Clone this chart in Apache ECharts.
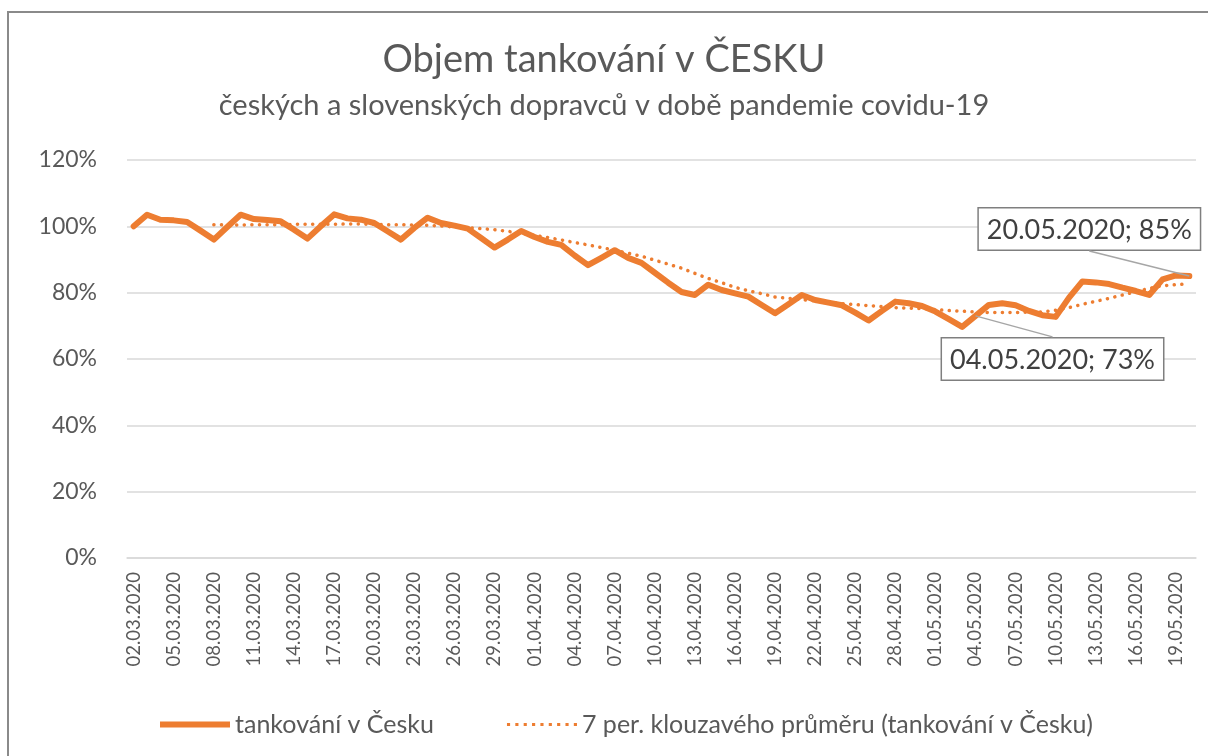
<!DOCTYPE html>
<html>
<head>
<meta charset="utf-8">
<title>Objem tankování v ČESKU</title>
<script src="https://cdn.jsdelivr.net/npm/echarts@6/dist/echarts.min.js"></script>
<style>
  html, body { margin: 0; padding: 0; background: #fff; }
  #chart { width: 1208px; height: 756px; }
</style>
</head>
<body>
<div id="chart"></div>
<script>
// dny 02.03.2020 - 20.05.2020
var dates = [
  '02.03.2020', '03.03.2020', '04.03.2020', '05.03.2020', '06.03.2020', '07.03.2020', '08.03.2020',
  '09.03.2020', '10.03.2020', '11.03.2020', '12.03.2020', '13.03.2020', '14.03.2020', '15.03.2020',
  '16.03.2020', '17.03.2020', '18.03.2020', '19.03.2020', '20.03.2020', '21.03.2020', '22.03.2020',
  '23.03.2020', '24.03.2020', '25.03.2020', '26.03.2020', '27.03.2020', '28.03.2020', '29.03.2020',
  '30.03.2020', '31.03.2020', '01.04.2020', '02.04.2020', '03.04.2020', '04.04.2020', '05.04.2020',
  '06.04.2020', '07.04.2020', '08.04.2020', '09.04.2020', '10.04.2020', '11.04.2020', '12.04.2020',
  '13.04.2020', '14.04.2020', '15.04.2020', '16.04.2020', '17.04.2020', '18.04.2020', '19.04.2020',
  '20.04.2020', '21.04.2020', '22.04.2020', '23.04.2020', '24.04.2020', '25.04.2020', '26.04.2020',
  '27.04.2020', '28.04.2020', '29.04.2020', '30.04.2020', '01.05.2020', '02.05.2020', '03.05.2020',
  '04.05.2020', '05.05.2020', '06.05.2020', '07.05.2020', '08.05.2020', '09.05.2020', '10.05.2020',
  '11.05.2020', '12.05.2020', '13.05.2020', '14.05.2020', '15.05.2020', '16.05.2020', '17.05.2020',
  '18.05.2020', '19.05.2020', '20.05.2020'
]

// tankování v Česku (%)
var tankovani = [
  100, 103.5, 102, 101.8, 101.3, 98.7, 96,
  99.8, 103.5, 102.2, 101.9, 101.5, 99, 96.3,
  100, 103.6, 102.4, 102, 101, 98.5, 96,
  99.5, 102.6, 101, 100.2, 99.3, 96.5, 93.6,
  96, 98.6, 96.8, 95.3, 94.4, 91.2, 88.3,
  90.5, 92.8, 90.5, 89, 86, 83, 80.2,
  79.3, 82.4, 80.8, 79.8, 78.8, 76.3, 73.8,
  76.5, 79.3, 77.8, 77, 76.2, 74, 71.6,
  74.5, 77.3, 76.8, 76, 74.3, 72, 69.7,
  73, 76.3, 76.8, 76.2, 74.5, 73.2, 72.7,
  78.5, 83.4, 83.1, 82.6, 81.5, 80.5, 79.3,
  84, 85.2, 85
]

// 7 per. klouzavý průměr (%)
var klouzavy = [
  '-', '-', '-', '-', '-', '-', 100.5,
  100.4, 100.4, 100.5, 100.5, 100.5, 100.6, 100.6,
  100.6, 100.6, 100.7, 100.7, 100.6, 100.5, 100.5,
  100.4, 100.3, 100.1, 99.8, 99.6, 99.3, 99,
  98.5, 97.9, 97.3, 96.6, 95.9, 95.1, 94.4,
  93.6, 92.8, 91.9, 91, 89.8, 88.6, 87.4,
  85.8, 84.3, 83, 81.6, 80.6, 79.7, 78.7,
  78.3, 77.9, 77.5, 77.1, 76.7, 76.4, 76.1,
  75.8, 75.5, 75.3, 75.2, 74.9, 74.6, 74.4,
  74.2, 74, 74, 74, 74.1, 74.2, 74.7,
  75.5, 76.5, 77.4, 78.3, 79.3, 80.3, 81.3,
  82.1, 82.4, 82.7
]

var yTicks = [0, 20, 40, 60, 80, 100, 120]

// body s popiskem
var popisky = ['04.05.2020', '20.05.2020']

var FONT = 'Lato, "Noto Sans", sans-serif'
var ORANGE = '#ED7D31'
var TEXT = '#595959'

var lineData = tankovani.map(function (v, i) {
  if (popisky.indexOf(dates[i]) >= 0) {
    return { value: v, symbol: 'circle', symbolSize: 1, label: { show: true } }
  }
  return v
})

// vodici cary - spocitaji se pri rozlozeni popisku
var vodici = {}

function posunPopisku(p, dx, dy, odSpodu) {
  var ax = p.rect.x + p.rect.width / 2
  var ay = p.rect.y + p.rect.height / 2
  var r = p.labelRect
  vodici[p.dataIndex] = {
    x1: r.x + r.width / 2 + dx,
    y1: odSpodu ? r.y + r.height + dy : r.y + dy,
    x2: ax,
    y2: ay
  }
  return { dx: dx, dy: dy }
}

var ramecek = {
  id: 'ramecek',
  type: 'rect',
  shape: { x: 8, y: 12, width: 1210, height: 770 },
  style: { fill: 'none', stroke: '#8a8a8a', lineWidth: 2 },
  silent: true
}

var option = {
  animation: false,
  graphic: [ramecek],
  title: [
    {
      text: 'Objem tankování v ČESKU',
      left: 'center',
      top: 36,
      textStyle: { fontFamily: FONT, fontSize: 38, fontWeight: 'normal', color: TEXT }
    },
    {
      text: 'českých a slovenských dopravců v době pandemie covidu-19',
      left: 'center',
      top: 86,
      textStyle: { fontFamily: FONT, fontSize: 29, fontWeight: 'normal', color: TEXT }
    }
  ],
  legend: {
    bottom: 14,
    left: 155,
    itemWidth: 70,
    itemHeight: 12,
    itemGap: 73,
    textStyle: { fontFamily: FONT, fontSize: 25, color: TEXT },
    data: [
      { name: 'tankování v Česku', icon: 'path://M0,0H70V6H0Z' },
      {
        name: '7 per. klouzavého průměru (tankování v Česku)',
        icon: 'path://M0,0h3v3h-3z M8,0h3v3h-3z M16,0h3v3h-3z M24,0h3v3h-3z M32,0h3v3h-3z M40,0h3v3h-3z M48,0h3v3h-3z M56,0h3v3h-3z M64,0h3v3h-3z'
      }
    ]
  },
  grid: {
    left: 127,
    top: 160,
    width: 1069,
    height: 398
  },
  xAxis: {
    type: 'category',
    data: dates,
    boundaryGap: true,
    axisLine: { lineStyle: { color: '#d9d9d9', width: 1.5 } },
    axisTick: { show: false },
    axisLabel: {
      interval: 2,
      rotate: 90,
      margin: 14,
      fontFamily: FONT,
      fontSize: 18.5,
      color: TEXT
    }
  },
  yAxis: {
    type: 'value',
    min: yTicks[0],
    max: yTicks[yTicks.length - 1],
    interval: yTicks[1] - yTicks[0],
    axisLine: { show: false },
    axisTick: { show: false },
    splitLine: { lineStyle: { color: '#d9d9d9', width: 1.5 } },
    axisLabel: {
      formatter: '{value}%',
      margin: 30,
      fontFamily: FONT,
      fontSize: 23,
      color: TEXT
    }
  },
  series: [
    {
      name: 'tankování v Česku',
      type: 'line',
      data: lineData,
      symbol: 'none',
      showSymbol: true,
      lineStyle: { color: ORANGE, width: 6, cap: 'round', join: 'round' },
      itemStyle: { color: ORANGE },
      z: 3,
      label: {
        show: false,
        formatter: function (p) {
          return p.name + '; ' + Math.round(p.value) + '%'
        },
        fontFamily: FONT,
        fontSize: 27,
        color: '#404040',
        backgroundColor: '#fff',
        borderColor: '#7f7f7f',
        borderWidth: 1.5,
        padding: [8, 8, 6, 8]
      },
      labelLayout: function (p) {
        if (dates[p.dataIndex] === '20.05.2020') return posunPopisku(p, -100, -21, true)
        if (dates[p.dataIndex] === '04.05.2020') return posunPopisku(p, 77, 69, false)
      },
      emphasis: { disabled: true }
    },
    {
      name: '7 per. klouzavého průměru (tankování v Česku)',
      type: 'line',
      data: klouzavy,
      symbol: 'none',
      lineStyle: { color: ORANGE, width: 3.5, type: [0.1, 7.5], cap: 'round' },
      itemStyle: { color: ORANGE },
      z: 2,
      emphasis: { disabled: true }
    }
  ]
}

var myChart = echarts.init(document.getElementById('chart'))
myChart.setOption(option)

// doplnit vodici cary popisku
var cary = [ramecek]
Object.keys(vodici).forEach(function (k) {
  cary.push({
    id: 'vodici' + k,
    type: 'line',
    shape: vodici[k],
    style: { stroke: '#a6a6a6', lineWidth: 1.5 },
    z: 10,
    silent: true
  })
})
myChart.setOption({ graphic: cary })
</script>
</body>
</html>
